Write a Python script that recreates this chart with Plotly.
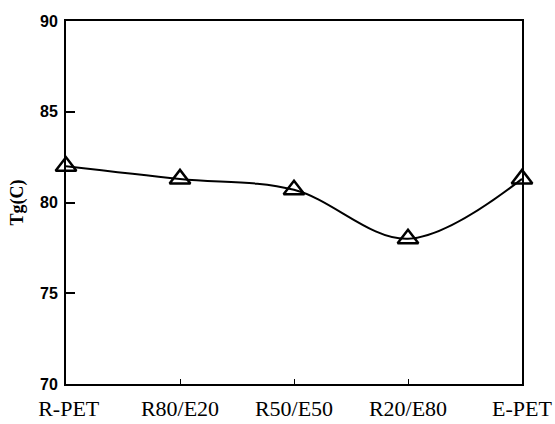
import plotly.graph_objects as go

categories = ["R-PET", "R80/E20", "R50/E50", "R20/E80", "E-PET"]
tg_values = [82.0, 81.3, 80.7, 78.0, 81.3]
y_ticks = [70, 75, 80, 85, 90]

x_idx = list(range(len(categories)))
# nudge the first label slightly inward, as in the original figure
tick_text = list(categories)
tick_text[0] = "\u00a0" + tick_text[0]

fig = go.Figure()
fig.add_trace(go.Scatter(
    x=x_idx, y=tg_values, mode="lines+markers",
    line=dict(color="black", width=2, shape="spline", smoothing=1.0),
    marker=dict(symbol="triangle-up-open", size=18, color="black",
                line=dict(color="black", width=2.5)),
    cliponaxis=False, showlegend=False,
))

fig.update_layout(
    width=555, height=424,
    margin=dict(l=66, r=33, t=21, b=40),
    paper_bgcolor="white", plot_bgcolor="white",
    xaxis=dict(
        range=[0, 4], tickvals=x_idx, ticktext=tick_text,
        automargin=False, ticklabeloverflow="allow", ticklabelstandoff=4,
        showgrid=False, zeroline=False, showline=True, linecolor="black",
        linewidth=2, mirror=True, ticks="inside", ticklen=5, tickcolor="black",
        tickfont=dict(family="Liberation Serif", size=22, color="black"),
    ),
    yaxis=dict(
        range=[70, 90], tickvals=y_ticks, automargin=False, ticklabelstandoff=3,
        showgrid=False, zeroline=False, showline=True, linecolor="black",
        linewidth=2, mirror=True, ticks="inside", ticklen=9, tickwidth=2,
        tickcolor="black",
        tickfont=dict(family="Liberation Sans", size=16, color="black", weight="bold"),
        title=dict(text="Tg(C)", standoff=12,
                   font=dict(family="Liberation Serif", size=18, color="black", weight="bold")),
    ),
)

fig.write_html(
    "out.html",
    config={"displayModeBar": False},
    post_script="document.body.style.margin='0';document.body.style.overflow='hidden';",
)
